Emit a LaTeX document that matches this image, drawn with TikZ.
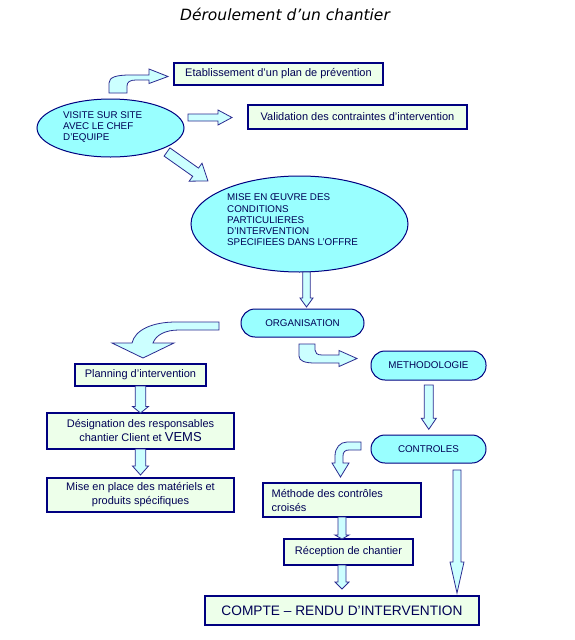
\documentclass[tikz,border=0pt]{standalone}
\usepackage{fontspec}
\setmainfont{Liberation Sans}
\newfontfamily\titlefont{DejaVu Sans}
\definecolor{navyb}{HTML}{000080}
\definecolor{arrline}{HTML}{2A2A90}
\definecolor{ellfill}{HTML}{99FFFF}
\definecolor{boxfill}{HTML}{EDFFEA}
\definecolor{arrfill}{HTML}{CCFFFF}
\definecolor{txt}{HTML}{000055}
\newcommand\downblk[6]{%
  \path[blk] (#1-#5,#2) -- (#1+#5,#2) -- (#1+#5,#3) -- (#1+#6,#3) -- (#1,#4)
     -- (#1-#6,#3) -- (#1-#5,#3) -- cycle;}
\begin{document}
\begin{tikzpicture}[x=1pt,y=-1pt,
  box/.style={draw=navyb, line width=1.2pt, fill=boxfill, inner sep=0pt,
     text=txt, align=center, font=\fontsize{11}{14}\selectfont},
  ell/.style={ellipse, draw=navyb, line width=1pt, fill=ellfill, inner sep=0pt},
  stad/.style={draw=navyb, line width=1pt, fill=ellfill, rounded corners=14pt,
     inner sep=0pt, text=txt, font=\fontsize{9.8}{11.5}\selectfont},
  caps/.style={text=txt, align=left, inner sep=0pt, font=\fontsize{9.8}{11.3}\selectfont},
  blk/.style={draw=arrline, fill=arrfill, line width=0.8pt, line join=miter}]
\usetikzlibrary{shapes.geometric}
\useasboundingbox (0,0) rectangle (575,640);
\fill[white] (0,0) rectangle (575,640);

% title
\node[font=\titlefont\itshape\fontsize{15.5}{18}\selectfont] (title) at (285,14) {Déroulement d’un chantier};

% ellipses
\node[ell, minimum width=147pt, minimum height=58pt] (visite) at (110.5,128) {};
\node[caps, anchor=west] (visitetxt) at (63,127) {VISITE SUR SITE\\AVEC LE CHEF\\D’EQUIPE};
\node[ell, minimum width=217pt, minimum height=96pt] (mise) at (299.5,224) {};
\node[caps, anchor=west] (misetxt) at (227,220) {MISE EN ŒUVRE DES\\CONDITIONS\\PARTICULIERES\\D’INTERVENTION\\SPECIFIEES DANS L’OFFRE};

% boxes
\node[box, minimum width=209pt, minimum height=22pt] (etab) at (278.5,74) {Etablissement d’un plan de prévention};
\node[box, minimum width=219pt, minimum height=24pt] (valid) at (357.5,117) {Validation des contraintes d’intervention};
\node[box, minimum width=131pt, minimum height=22pt] (plan) at (140.5,375) {Planning d’intervention};
\node[box, minimum width=187pt, minimum height=36pt] (desig) at (140.5,431) {Désignation des responsables\\chantier Client et {\fontsize{13}{14}\selectfont VEMS}};
\node[box, minimum width=187pt, minimum height=34pt] (miseplace) at (140.5,495) {Mise en place des matériels et\\produits spécifiques};
\node[box, minimum width=158pt, minimum height=34pt] (methode) at (342,500) {};
\node[box, fill=none, draw=none, align=left, anchor=west] (methodetxt) at (271,500) {Méthode des contrôles\\croisés};
\node[box, minimum width=129pt, minimum height=26pt] (recep) at (348.5,552) {Réception de chantier};
\node[box, minimum width=274pt, minimum height=29pt, font=\fontsize{13.7}{16}\selectfont] (compte) at (342,610.5) {COMPTE – RENDU D’INTERVENTION};

% stadium shapes
\node[stad, minimum width=123pt, minimum height=28pt] (org) at (302.5,323) {ORGANISATION};
\node[stad, minimum width=115pt, minimum height=29pt] (meth) at (428.5,365.5) {METHODOLOGIE};
\node[stad, minimum width=115pt, minimum height=28pt] (ctrl) at (428.5,449) {CONTROLES};

% curved arrow visite -> etab
\path[blk] (109,93) -- (109,83) .. controls (109,77) and (117,75) .. (130,75) -- (149,75)
  -- (149,69) -- (168,76.5) -- (149,83.5) -- (149,80) -- (136,80)
  .. controls (130,80) and (127,82) .. (127,86) -- (127,93) -- cycle;
% straight arrow visite -> valid
\path[blk] (188,114) -- (218,114) -- (218,110) -- (232,117.5) -- (218,125) -- (218,121) -- (188,121) -- cycle;
% diagonal arrow visite -> mise
\path[blk] (169.9,147.9) -- (198.5,168.1) -- (202.0,163.2) -- (207.9,180.9)
  -- (189.2,181.2) -- (192.7,176.3) -- (164.1,156.1) -- cycle;
% mise -> org
\downblk{306.5}{272}{298}{307}{3.7}{6.5}
% org -> planning (big curved)
\path[blk] (219,322) -- (176,322) .. controls (152,322) and (135,330) .. (132,343)
  -- (112,343) -- (143,358) -- (174,343) -- (153,343)
  .. controls (156,335) and (165,330) .. (179,330) -- (219,330) -- cycle;
% org -> methodologie
\path[blk] (299,344) -- (299,356) .. controls (299,361) and (305,363) .. (315,363)
  -- (339,363) -- (339,366.5) -- (357,358.5) -- (339,350.5) -- (339,355) -- (322,355)
  .. controls (317,355) and (315,353) .. (315,350) -- (315,344) -- cycle;
% planning -> desig -> miseplace
\downblk{140.5}{386}{406.5}{413}{5.3}{8}
\downblk{140.5}{449}{466}{475}{5.3}{8}
% meth -> ctrl
\downblk{428.8}{385}{418.3}{429.3}{4.5}{7.5}
% ctrl -> methode (curved)
\path[blk] (361,442) -- (347,442) .. controls (340,442) and (335,448) .. (335,456)
  -- (335,463) -- (332,463) -- (340.5,477) -- (349,463) -- (343,463) -- (343,456)
  .. controls (343,452) and (345,450) .. (349,450) -- (361,450) -- cycle;
% methode -> recep -> compte
\downblk{342}{517}{535}{539}{4}{7}
\downblk{342}{565}{582}{589}{4}{7}
% ctrl -> compte (long)
\downblk{457}{470}{562}{593}{4}{7}
\end{tikzpicture}
\end{document}
